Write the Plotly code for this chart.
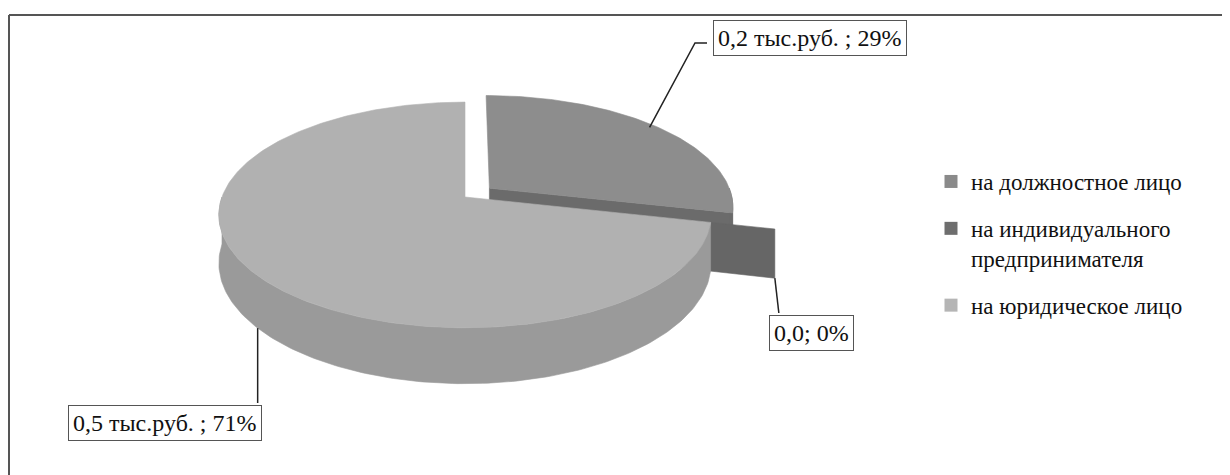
import numpy as np
import plotly.graph_objects as go

# ---------------- data ----------------
categories = ["на должностное лицо", "на индивидуального предпринимателя", "на юридическое лицо"]
legend_names = ["на должностное лицо", "на индивидуального<br>предпринимателя", "на юридическое лицо"]
values = [0.2, 0.0, 0.5]            # тыс. руб.
value_labels = ["0,2 тыс.руб. ", "0,0", "0,5 тыс.руб. "]

# ---------------- style ----------------
top_colors = ["#8d8d8d", "#6a6a6a", "#b1b1b1"]
side_colors = ["#6b6b6b", "#666666", "#9a9a9a"]
legend_colors = ["#8a8a8a", "#6e6e6e", "#b5b5b5"]
pulls = [0.13, 0.25, 0.0]
FONT = "Liberation Serif, Times New Roman, Times, serif"

W, H = 1230, 475
OFF = 8   # page offset of the figure inside the browser page
CX, CY, RX, RY, PERSP, DEPTH = 465, 197, 243, 110, 0.159, 47


def proj(u, v, z=0.0):
    s = 1.0 / (1.0 + PERSP * v)
    return CX + RX * u * s, CY - RY * v * s + DEPTH * z * s


total = sum(values)
fracs = [v / total for v in values]
cum = np.concatenate([[0.0], np.cumsum(fracs)])


def make_slice(i):
    a0 = np.radians(360 * cum[i])
    a1 = np.radians(360 * cum[i + 1])
    mid = (a0 + a1) / 2
    ou, ov = pulls[i] * np.sin(mid), pulls[i] * np.cos(mid)

    def pt(th, r, z=0.0):
        return proj(ou + r * np.sin(th), ov + r * np.cos(th), z)

    return a0, a1, mid, pt


fig = go.Figure()


def add_poly(pts, color):
    xs = [p[0] for p in pts] + [pts[0][0]]
    ys = [p[1] for p in pts] + [pts[0][1]]
    fig.add_trace(go.Scatter(x=xs, y=ys, mode="lines", fill="toself", fillcolor=color,
                             line=dict(color=color, width=0.6), hoverinfo="skip",
                             showlegend=False))


slices = {i: make_slice(i) for i in range(len(values))}
order = sorted(range(len(values)), key=lambda i: -np.cos(slices[i][2]))

for i in order:
    a0, a1, mid, pt = slices[i]
    # cut faces
    if np.sin(a0) < -1e-9:
        add_poly([pt(a0, 0, 0), pt(a0, 1, 0), pt(a0, 1, 1), pt(a0, 0, 1)], side_colors[i])
    if np.sin(a1) > 1e-9:
        add_poly([pt(a1, 0, 0), pt(a1, 1, 0), pt(a1, 1, 1), pt(a1, 0, 1)], side_colors[i])
    # outer rim (front half only)
    lo, hi = max(a0, np.pi / 2), min(a1, 3 * np.pi / 2)
    if hi > lo:
        ths = np.linspace(lo, hi, max(3, int(np.degrees(hi - lo)) + 2))
        rim = [pt(t, 1, 0) for t in ths] + [pt(t, 1, 1) for t in ths[::-1]]
        add_poly(rim, side_colors[i])
    # top face
    if a1 - a0 > 1e-9:
        ths = np.linspace(a0, a1, max(3, int(np.degrees(a1 - a0)) + 2))
        add_poly([pt(a0, 0, 0)] + [pt(t, 1, 0) for t in ths], top_colors[i])

# legend entries
for i in range(len(values)):
    fig.add_trace(go.Scatter(x=[None], y=[None], mode="markers", name=legend_names[i],
                             legendgroup=str(i),
                             marker=dict(symbol="square", size=13, color=legend_colors[i]),
                             hovertext=categories[i]))

# data labels with leader lines
label_text = [f"{value_labels[i]}; {round(100 * fracs[i])}%" for i in range(len(values))]
box_centers = [(809.5, 37.5), (811.5, 332.5), (165, 422.5)]

_, _, _, pt0 = slices[0]
_, a1_1, _, pt1 = slices[1]
_, _, _, pt2 = slices[2]
anc0 = pt0(np.radians(50), 0.97, 0)
anc1 = pt1(a1_1, 1, 1)
anc2 = pt2(np.radians(230), 1, 1)
leaders = [
    [anc0, (695, 43), (707, 43)],
    [anc1, (anc1[0] + 4, 313)],
    [anc2, (anc2[0], 403)],
]
for pts in leaders:
    fig.add_trace(go.Scatter(x=[p[0] for p in pts], y=[p[1] for p in pts], mode="lines",
                             line=dict(color="#222222", width=1.5), hoverinfo="skip",
                             showlegend=False))

for i, (bx, by) in enumerate(box_centers):
    fig.add_annotation(x=bx, y=by, xref="x", yref="y", text=label_text[i], showarrow=False,
                       font=dict(family=FONT, size=24, color="#111111"),
                       bgcolor="white", bordercolor="#555555", borderwidth=1, borderpad=4,
                       xanchor="center", yanchor="middle")

fig.update_layout(
    width=W - OFF, height=H - OFF,
    margin=dict(l=0, r=0, t=0, b=0),
    paper_bgcolor="white", plot_bgcolor="white",
    xaxis=dict(range=[OFF, W], visible=False, fixedrange=True),
    yaxis=dict(range=[H, OFF], visible=False, fixedrange=True),
    showlegend=True,
    legend=dict(x=(923 + OFF - OFF) / (W - OFF), y=1 - 152 / (H - OFF),
                xanchor="left", yanchor="top",
                font=dict(family=FONT, size=23, color="#111111"),
                tracegroupgap=14, valign="top", bgcolor="rgba(0,0,0,0)",
                itemwidth=30),
    shapes=[
        dict(type="line", xref="x", yref="y", x0=9, y0=15, x1=9, y1=H + 40,
             line=dict(color="#555555", width=2), layer="below"),
        dict(type="line", xref="x", yref="y", x0=9, y0=15, x1=W + 40, y1=15,
             line=dict(color="#555555", width=2), layer="below"),
    ],
)

fig.write_html("out.html")
